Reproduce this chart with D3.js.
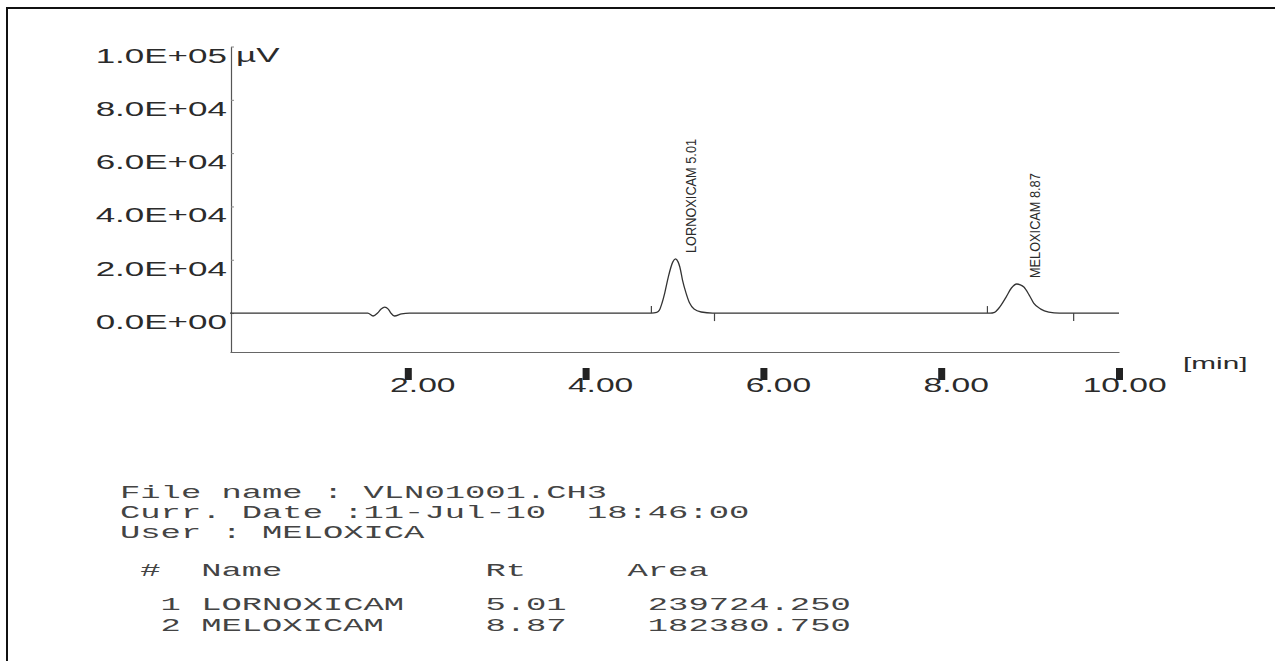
<!DOCTYPE html>
<html>
<head>
<meta charset="utf-8">
<script src="https://cdn.jsdelivr.net/npm/d3@7"></script>
<style>
  body { margin: 0; background: #fff; }
  svg { display: block; }
</style>
</head>
<body>
<svg id="chart"></svg>
<script>
// values
var yTicks = [0, 20000, 40000, 60000, 80000, 100000];
var yTickLabels = ["0.0E+00", "2.0E+04", "4.0E+04", "6.0E+04", "8.0E+04", "1.0E+05"];
var xTicks = [2, 4, 6, 8, 10];
var xTickLabels = ["2.00", "4.00", "6.00", "8.00", "10.00"];

// detector trace, time [min] / signal [uV]
var traceTime   = [0, 1.55, 1.61, 1.66, 1.70, 1.74, 1.78, 1.81, 1.85, 1.93, 2.02,
                   4.74, 4.80, 4.83, 4.86, 4.89, 4.93, 4.98, 5.01, 5.04, 5.06, 5.09, 5.13, 5.17, 5.22, 5.30, 5.43,
                   8.55, 8.60, 8.65, 8.73, 8.79, 8.85, 8.89, 8.93, 8.99, 9.04, 9.12, 9.21, 9.33, 10.0];
var traceSignal = [0, 0, -1100, 0, 1500, 2250, 1500, 0, -1100, -300, 0,
                   0, 300, 1100, 3800, 7500, 13500, 19100, 20300, 19200, 17300, 12400, 7500, 3750, 1500, 400, 0,
                   0, 300, 1900, 6000, 9400, 10900, 10600, 9750, 6750, 3750, 1500, 400, 0, 0];

var peakNames  = ["LORNOXICAM", "MELOXICAM"];
var peakRt     = [5.01, 8.87];
var peakHeight = [20300, 10900];
var peakStart  = [4.74, 8.52];
var peakEnd    = [5.45, 9.49];
var peakArea   = ["239724.250", "182380.750"];

var infoLines = ["File name : VLN01001.CH3", "Curr. Date :11-Jul-10  18:46:00", "User : MELOXICA"];
var tableHeader = ["#", "Name", "Rt", "Area"];

var width = 1275, height = 661;
var sx = 1.75;   // the scan is stretched sideways

var svg = d3.select("#chart").attr("width", width).attr("height", height);

// page frame
svg.append("rect")
  .attr("x", 7).attr("y", 8).attr("width", 1400).attr("height", 800)
  .attr("fill", "none").attr("stroke", "#111").attr("stroke-width", 2);

var x = d3.scaleLinear().domain([0, 10]).range([230, 1119]);
var y = d3.scaleLinear().domain([-14600, 100000]).range([352, 46.5]);

// y axis
var yAxis = d3.axisLeft(y).tickValues(yTicks).tickSize(-3).tickSizeOuter(0)
  .tickFormat(function(d, i) { return yTickLabels[i]; });

var yG = svg.append("g").attr("transform", "translate(231,0)").call(yAxis);
yG.select(".domain").attr("stroke", "#555").attr("stroke-width", 1.2);
yG.selectAll(".tick line").attr("stroke", "#888");
yG.selectAll(".tick text")
  .attr("x", null).attr("dy", null)
  .attr("text-anchor", "end")
  .attr("transform", "translate(-4,15.5) scale(" + sx + ",1)")
  .attr("fill", "#2b2b2b")
  .style("font-family", "'Liberation Sans', Arial, sans-serif")
  .style("font-size", "20px");

svg.append("text")
  .attr("transform", "translate(236," + (y(100000) + 15.5) + ") scale(" + sx + ",1)")
  .attr("fill", "#2b2b2b")
  .style("font-family", "'Liberation Sans', Arial, sans-serif")
  .style("font-size", "20px")
  .text("\u00b5V");

// x axis, only the line comes from d3
var xAxis = d3.axisBottom(x).tickValues([]).tickSizeOuter(0);
var xG = svg.append("g").attr("transform", "translate(0,352)").call(xAxis);
xG.select(".domain").attr("stroke", "#666").attr("stroke-width", 1.2);

svg.selectAll(".xmark")
  .data(xTicks)
  .enter().append("rect")
  .attr("class", "xmark")
  .attr("x", function(d) { return x(d) - 3; })
  .attr("y", 368).attr("width", 7).attr("height", 12)
  .attr("fill", "#222");

var xlab = svg.selectAll(".xlab")
  .data(xTicks)
  .enter().append("g")
  .attr("class", "xlab")
  .attr("transform", function(d) { return "translate(" + (x(d) + 1) + ",392) scale(1.6,1)"; })
  .attr("fill", "#2b2b2b")
  .style("font-family", "'Liberation Sans', Arial, sans-serif")
  .style("font-size", "21px");

xlab.append("text")
  .attr("text-anchor", "end")
  .text(function(d, i) { return xTickLabels[i].split(".")[0]; });
xlab.append("text")
  .attr("text-anchor", "start")
  .text(function(d, i) { return "." + xTickLabels[i].split(".")[1]; });

svg.append("text")
  .attr("transform", "translate(1183,369) scale(" + sx + ",1)")
  .attr("fill", "#2b2b2b")
  .style("font-family", "'Liberation Sans', Arial, sans-serif")
  .style("font-size", "17px")
  .text("[min]");

// trace
var trace = traceTime.map(function(t, i) { return { t: t, v: traceSignal[i] }; });
var line = d3.line()
  .x(function(d) { return x(d.t); })
  .y(function(d) { return y(d.v); })
  .curve(d3.curveMonotoneX);

svg.append("path")
  .datum(trace)
  .attr("d", line)
  .attr("fill", "none")
  .attr("stroke", "#333")
  .attr("stroke-width", 1.3);

// integration start / end marks
svg.selectAll(".pstart")
  .data(peakStart)
  .enter().append("line")
  .attr("x1", function(d) { return x(d); }).attr("x2", function(d) { return x(d); })
  .attr("y1", y(0) - 7).attr("y2", y(0))
  .attr("stroke", "#444").attr("stroke-width", 1.2);
svg.selectAll(".pend")
  .data(peakEnd)
  .enter().append("line")
  .attr("x1", function(d) { return x(d); }).attr("x2", function(d) { return x(d); })
  .attr("y1", y(0)).attr("y2", y(0) + 8)
  .attr("stroke", "#444").attr("stroke-width", 1.2);

// peak labels
svg.selectAll(".plab")
  .data(peakRt)
  .enter().append("text")
  .attr("transform", function(d, i) {
    return "translate(" + (x(d) + 21) + "," + (y(peakHeight[i]) - 6) + ") rotate(-90) scale(0.88,1)";
  })
  .attr("fill", "#2b2b2b")
  .style("font-family", "'Liberation Sans', Arial, sans-serif")
  .style("font-size", "14.5px")
  .text(function(d, i) { return peakNames[i] + " " + d.toFixed(2); });

// report text below
var left = 120, charW = 20.3, monoSize = 17.5;
var mono = svg.append("g")
  .attr("fill", "#444")
  .style("font-family", "'Liberation Mono', 'Courier New', monospace")
  .style("font-size", monoSize + "px");

function monoText(col, base, str) {
  mono.append("text")
    .attr("transform", "translate(" + (left + col * charW) + "," + base + ") scale(" + (charW / (monoSize * 0.6)) + ",1)")
    .text(str);
}

var infoBase = [498, 518, 538];
infoLines.forEach(function(s, i) {
  // keep the double blank in the date line
  s.split(/(  )/).reduce(function(col, part) {
    if (part.trim() != "") monoText(col, infoBase[i], part);
    return col + part.length;
  }, 0);
});

var cols = [1, 4, 18, 25];
tableHeader.forEach(function(h, i) { monoText(cols[i], 576, h); });

var rowBase = [610, 631];
peakNames.forEach(function(n, i) {
  monoText(2, rowBase[i], String(i + 1));
  monoText(4, rowBase[i], n);
  monoText(18, rowBase[i], peakRt[i].toFixed(2));
  monoText(26, rowBase[i], peakArea[i]);
});
</script>
</body>
</html>
